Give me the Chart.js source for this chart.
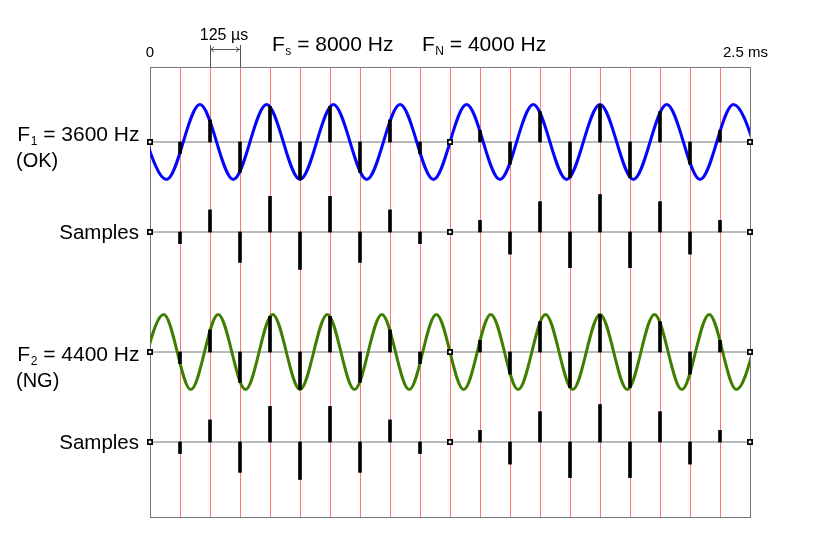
<!DOCTYPE html>
<html><head><meta charset="utf-8">
<script src="https://cdn.jsdelivr.net/npm/chart.js@4/dist/chart.umd.min.js"></script>
<style>html,body{margin:0;padding:0;background:#fff}canvas{display:block}</style>
</head><body>
<canvas id="c" width="826" height="541"></canvas>
<script>
// ---- data (µs) ----
const sampleTimes = [0,125,250,375,500,625,750,875,1000,1125,1250,1375,1500,1625,1750,1875,2000,2125,2250,2375,2500];
const samples1 = [0,-0.31,0.59,-0.81,0.95,-1,0.95,-0.81,0.59,-0.31,0,0.31,-0.59,0.81,-0.95,1,-0.95,0.81,-0.59,0.31,0];
const samples2 = [0,-0.31,0.59,-0.81,0.95,-1,0.95,-0.81,0.59,-0.31,0,0.31,-0.59,0.81,-0.95,1,-0.95,0.81,-0.59,0.31,0];
// peaks / troughs of the 3600 Hz wave
const wave1Times = [-69,69,208,347,486,625,764,903,1042,1181,1319,1458,1597,1736,1875,2014,2153,2292,2431,2569];
const wave1Values = [1,-1,1,-1,1,-1,1,-1,1,-1,1,-1,1,-1,1,-1,1,-1,1,-1];
// peaks / troughs of the 4400 Hz wave
const wave2Times = [-57,57,170,284,398,511,625,739,852,966,1080,1193,1307,1420,1534,1648,1761,1875,1989,2102,2216,2330,2443,2557];
const wave2Values = [-1,1,-1,1,-1,1,-1,1,-1,1,-1,1,-1,1,-1,1,-1,1,-1,1,-1,1,-1,1];
const timeMin = 0, timeMax = 2500, sampleStep = 125;
const labels = {
  top0: '0', topEnd: '2.5 ms', period: '125 µs',
  fs: ['F', 's', '= 8000 Hz'], fn: ['F', 'N', '= 4000 Hz'],
  f1: ['F', '1', '= 3600 Hz'], f1b: '(OK)',
  f2: ['F', '2', '= 4400 Hz'], f2b: '(NG)',
  samp: 'Samples'
};

// ---- layout (row baselines in y-units, 1 unit = amplitude) ----
const ROW = {wave1: 10, samp1: 7.6, wave2: 4.4, samp2: 2};
const BLUE = '#0505f8', GREEN = '#3f7d00', RED = '#ff7575', GRAY = '#777';

function baseline(y){ return {type:'line', data:[{x:timeMin,y},{x:timeMax,y}], borderColor:GRAY, borderWidth:1, pointRadius:0, order:5}; }
function curve(times, vals, base, color){
  return {type:'line', data: times.map((t,i)=>({x:t, y:base+vals[i]})), borderColor:color, borderWidth:3,
    pointRadius:0, cubicInterpolationMode:'monotone', order:4};
}
function bars(vals, base){
  return {type:'bar', data: sampleTimes.map((t,i)=>({x:t, y:[base, base+vals[i]]})), backgroundColor:'#000',
    borderWidth:0, barThickness:3, grouped:false, order:2};
}
function zeros(vals, base){
  return {type:'line', showLine:false, data: sampleTimes.map((t,i)=>({x:t,y:base,v:vals[i]})).filter(p=>p.v===0).map(p=>({x:p.x,y:p.y})),
    pointStyle:'rect', pointRadius:3, borderColor:'#000', borderWidth:1.7, backgroundColor:'#fff', order:1, clip:false};
}

const datasets = [
  baseline(ROW.wave1), baseline(ROW.samp1), baseline(ROW.wave2), baseline(ROW.samp2),
  curve(wave1Times, wave1Values, ROW.wave1, BLUE),
  curve(wave2Times, wave2Values, ROW.wave2, GREEN),
  bars(samples1, ROW.wave1), bars(samples1, ROW.samp1),
  bars(samples2, ROW.wave2), bars(samples2, ROW.samp2),
  zeros(samples1, ROW.wave1), zeros(samples1, ROW.samp1),
  zeros(samples2, ROW.wave2), zeros(samples2, ROW.samp2)
];

const FONT = '"Liberation Sans", Arial, sans-serif';
function fLabel(ctx, x, y, parts, size, align){
  const [m, s, r] = parts;
  ctx.font = size + 'px ' + FONT; const wm = ctx.measureText(m).width;
  const ss = Math.round(size*0.58);
  ctx.font = ss + 'px ' + FONT; const ws = ctx.measureText(s).width;
  ctx.font = size + 'px ' + FONT; const wr = ctx.measureText(' ' + r).width;
  let x0 = align === 'right' ? x - (wm+ws+wr) : x;
  ctx.textAlign = 'left';
  ctx.fillText(m, x0, y);
  ctx.font = ss + 'px ' + FONT; ctx.fillText(s, x0+wm+0.5, y + size*0.2);
  ctx.font = size + 'px ' + FONT; ctx.fillText(' ' + r, x0+wm+ws+0.5, y);
}

const textPlugin = {
  id:'texts',
  afterDraw(chart){
    const ctx = chart.ctx, xs = chart.scales.x, ys = chart.scales.y, ca = chart.chartArea;
    ctx.save();
    ctx.fillStyle = '#000'; ctx.textBaseline = 'alphabetic';
    // period marker
    const xa = xs.getPixelForValue(2*sampleStep), xb = xs.getPixelForValue(3*sampleStep);
    ctx.strokeStyle = '#555'; ctx.lineWidth = 1;
    ctx.beginPath();
    ctx.moveTo(Math.round(xa)+0.5, 45); ctx.lineTo(Math.round(xa)+0.5, ca.top);
    ctx.moveTo(Math.round(xb)+0.5, 45); ctx.lineTo(Math.round(xb)+0.5, ca.top);
    ctx.moveTo(xa, 49.5); ctx.lineTo(xb, 49.5);
    ctx.moveTo(xa+4, 47); ctx.lineTo(xa+1, 49.5); ctx.lineTo(xa+4, 52);
    ctx.moveTo(xb-4, 47); ctx.lineTo(xb-1, 49.5); ctx.lineTo(xb-4, 52);
    ctx.stroke();
    ctx.font = '16px ' + FONT; ctx.textAlign = 'center';
    ctx.fillText(labels.period, (xa+xb)/2 - 1, 40);
    ctx.font = '15px ' + FONT;
    ctx.fillText(labels.top0, xs.getPixelForValue(timeMin), 57);
    ctx.textAlign = 'left';
    ctx.fillText(labels.topEnd, 723, 57);
    fLabel(ctx, 272, 51, labels.fs, 21, 'left');
    fLabel(ctx, 422, 51, labels.fn, 21, 'left');
    // left labels
    const right = 139;
    fLabel(ctx, right, 141, labels.f1, 21, 'right');
    ctx.font = '20px ' + FONT; ctx.textAlign = 'left';
    ctx.fillText(labels.f1b, 16, 167);
    fLabel(ctx, right, 361, labels.f2, 21, 'right');
    ctx.font = '20px ' + FONT; ctx.textAlign = 'left';
    ctx.fillText(labels.f2b, 16, 387);
    ctx.font = '20.5px ' + FONT; ctx.textAlign = 'right';
    ctx.fillText(labels.samp, right, ys.getPixelForValue(ROW.samp1)+7);
    ctx.fillText(labels.samp, right, ys.getPixelForValue(ROW.samp2)+7);
    ctx.restore();
  }
};

new Chart(document.getElementById('c'), {
  type:'line',
  data:{datasets},
  options:{
    responsive:false, animation:false, devicePixelRatio:1,
    layout:{padding:{left:150, right:76, top:67, bottom:24}},
    plugins:{legend:{display:false}, tooltip:{enabled:false}},
    scales:{
      x:{type:'linear', min:timeMin, max:timeMax, offset:false,
         ticks:{display:false, stepSize:sampleStep, maxTicksLimit:100},
         grid:{offset:false, drawTicks:false, lineWidth:1, color:c => (c.tick && (c.tick.value===timeMin || c.tick.value===timeMax)) ? GRAY : RED},
         border:{display:true, color:GRAY}},
      y:{type:'linear', min:0, max:12,
         ticks:{display:false, stepSize:12, maxTicksLimit:100},
         grid:{drawTicks:false, color:GRAY, lineWidth:1},
         border:{display:true, color:GRAY}}
    }
  },
  plugins:[textPlugin]
});
</script>
</body></html>
